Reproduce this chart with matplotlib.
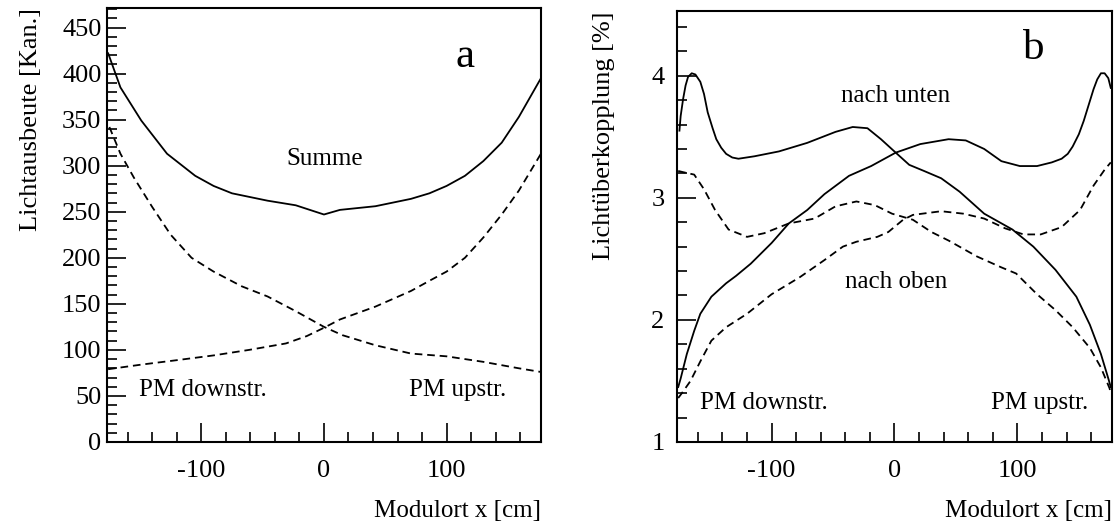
import matplotlib
matplotlib.use("Agg")
import matplotlib.pyplot as plt
from matplotlib.ticker import MultipleLocator

plt.rcParams['font.family'] = ['Liberation Serif', 'DejaVu Serif']
plt.rcParams['lines.scale_dashes'] = False
plt.rcParams['axes.unicode_minus'] = False

# ---------------- Panel a data ----------------
sum_x = [-176, -166, -149, -128, -105, -90, -75, -46, -23, 0, 13, 42, 71, 86, 100, 115, 130, 145, 159, 177]
sum_y = [422, 385, 349, 313, 289, 278, 270, 262, 257, 247, 252, 256, 264, 270, 278, 289, 305, 325, 353, 395]

down_x = [-175, -166, -155, -140, -125, -108, -90, -67, -46, -23, 0, 15, 42, 71, 100, 130, 159, 177]
down_y = [342, 313, 287, 255, 225, 200, 185, 169, 158, 142, 125, 116, 105, 96, 93, 87, 80, 76]

up_x = [-176, -149, -119, -90, -61, -31, -14, 0, 13, 42, 71, 86, 100, 115, 130, 145, 159, 177]
up_y = [79, 84, 89, 94, 100, 107, 115, 124, 133, 147, 164, 175, 185, 200, 222, 247, 273, 313]

# ---------------- Panel b data ----------------
a_x = [-175, -174, -172, -170, -168, -165, -162, -158, -155, -152, -148, -145, -141, -137, -132, -127, -114, -94,
       -71, -48, -34, -22, -11, 1, 12, 24, 38, 53, 73, 96, 113, 131, 148, 159, 168, 174, 176]
a_y = [3.55, 3.67, 3.81, 3.92, 3.99, 4.02, 4.01, 3.95, 3.85, 3.70, 3.57, 3.48, 3.41, 3.36, 3.33, 3.32, 3.34, 3.38,
       3.45, 3.54, 3.58, 3.57, 3.48, 3.37, 3.27, 3.22, 3.16, 3.05, 2.87, 2.74, 2.60, 2.41, 2.19, 1.96, 1.72, 1.52, 1.45]

b_x = [-176, -174, -169, -163, -158, -149, -137, -129, -117, -100, -86, -71, -57, -37, -19, 1, 21, 44, 58, 73, 87,
       102, 116, 128, 136, 141, 145, 150, 154, 158, 162, 165, 168, 171, 174, 176]
b_y = [1.45, 1.52, 1.72, 1.91, 2.05, 2.19, 2.30, 2.36, 2.46, 2.63, 2.79, 2.90, 3.03, 3.18, 3.26, 3.37, 3.44, 3.48,
       3.47, 3.40, 3.30, 3.26, 3.26, 3.29, 3.32, 3.36, 3.42, 3.52, 3.63, 3.76, 3.89, 3.97, 4.02, 4.02, 3.98, 3.90]

c_x = [-176, -172, -163, -155, -146, -135, -120, -106, -86, -65, -48, -31, -16, -2, 15, 30, 44, 67, 87, 99, 116,
       131, 145, 159, 168, 175, 176]
c_y = [3.22, 3.21, 3.19, 3.07, 2.90, 2.74, 2.68, 2.71, 2.79, 2.83, 2.93, 2.97, 2.94, 2.87, 2.82, 2.72, 2.65, 2.52,
       2.43, 2.38, 2.21, 2.08, 1.94, 1.77, 1.61, 1.44, 1.40]

d_x = [-176, -173, -166, -158, -149, -137, -120, -100, -77, -57, -42, -31, -14, -5, 7, 15, 38, 56, 73, 90, 105,
       119, 136, 151, 162, 171, 176]
d_y = [1.36, 1.40, 1.50, 1.66, 1.83, 1.94, 2.05, 2.21, 2.35, 2.49, 2.60, 2.64, 2.68, 2.72, 2.82, 2.86, 2.89, 2.87,
       2.83, 2.75, 2.70, 2.70, 2.76, 2.90, 3.10, 3.23, 3.29]

XLIM = (-177, 177)
TICK_FS = 19
YLABEL_FS = 19
XLABEL_FS = 18
TEXT_FS = 18
PANEL_FS = 31
LW = 1.3
DASH = (5.5, 3.5)

fig = plt.figure(figsize=(11.14, 5.29), dpi=100)
ax1 = fig.add_axes([0.0960, 0.1645, 0.3896, 0.8200])
ax2 = fig.add_axes([0.6077, 0.1645, 0.3905, 0.8147])


def style(ax):
    for s in ax.spines.values():
        s.set_linewidth(1.5)
    ax.tick_params(which='both', direction='in', top=False, right=False, labelsize=TICK_FS, width=1.2)
    ax.tick_params(which='major', length=14)
    ax.tick_params(which='minor', length=7)
    ax.tick_params(axis='x', which='major', pad=13)
    ax.tick_params(axis='y', which='major', pad=4)
    ax.xaxis.set_major_locator(MultipleLocator(100))
    ax.xaxis.set_minor_locator(MultipleLocator(20))
    ax.set_xlim(*XLIM)


# Panel a
ax1.plot(sum_x, sum_y, color='black', lw=LW)
ax1.plot(down_x, down_y, color='black', lw=LW, dashes=DASH)
ax1.plot(up_x, up_y, color='black', lw=LW, dashes=DASH)
style(ax1)
ax1.set_ylim(0, 471)
ax1.yaxis.set_major_locator(MultipleLocator(50))
ax1.yaxis.set_minor_locator(MultipleLocator(10))
ax1.set_ylabel('Lichtausbeute [Kan.]', fontsize=YLABEL_FS, loc='top', labelpad=14)
ax1.set_xlabel('Modulort x [cm]', fontsize=XLABEL_FS, loc='right', labelpad=13)
ax1.text(115, 418, 'a', fontsize=PANEL_FS, ha='center', va='center')
ax1.text(1, 307, 'Summe', fontsize=TEXT_FS, ha='center', va='center')
ax1.text(-99, 56, 'PM downstr.', fontsize=TEXT_FS, ha='center', va='center')
ax1.text(109, 56, 'PM upstr.', fontsize=TEXT_FS, ha='center', va='center')

# Panel b
ax2.plot(a_x, a_y, color='black', lw=LW)
ax2.plot(b_x, b_y, color='black', lw=LW)
ax2.plot(c_x, c_y, color='black', lw=LW, dashes=DASH)
ax2.plot(d_x, d_y, color='black', lw=LW, dashes=DASH)
style(ax2)
ax2.set_ylim(1, 4.53)
ax2.yaxis.set_major_locator(MultipleLocator(1))
ax2.yaxis.set_minor_locator(MultipleLocator(0.2))
ax2.tick_params(axis='y', which='major', pad=9)
ax2.set_ylabel('Lichtüberkopplung [%]', fontsize=YLABEL_FS, loc='top', labelpad=26)
ax2.set_xlabel('Modulort x [cm]', fontsize=XLABEL_FS, loc='right', labelpad=13)
ax2.text(113, 4.22, 'b', fontsize=PANEL_FS, ha='center', va='center')
ax2.text(1, 3.83, 'nach unten', fontsize=TEXT_FS, ha='center', va='center')
ax2.text(1, 2.31, 'nach oben', fontsize=TEXT_FS, ha='center', va='center')
ax2.text(-106, 1.32, 'PM downstr.', fontsize=TEXT_FS, ha='center', va='center')
ax2.text(118, 1.32, 'PM upstr.', fontsize=TEXT_FS, ha='center', va='center')

fig.savefig('out.png', dpi=100)
